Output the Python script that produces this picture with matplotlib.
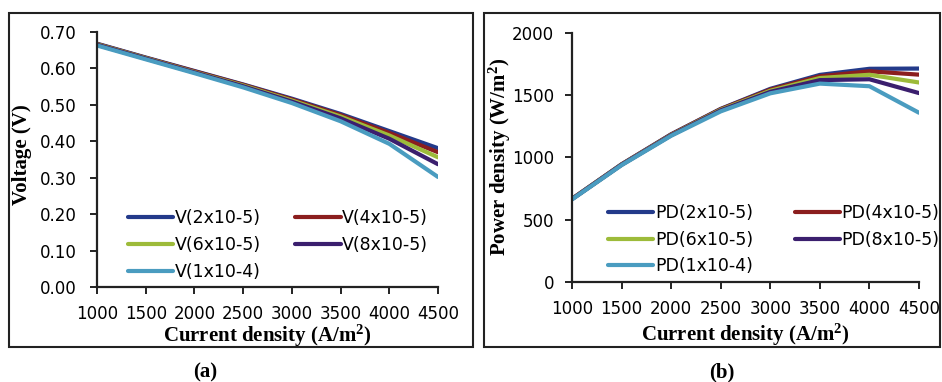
import matplotlib
matplotlib.use("Agg")
import matplotlib.pyplot as plt
from matplotlib.patches import Rectangle

plt.rcParams["mathtext.fontset"] = "custom"
plt.rcParams["mathtext.bf"] = "Liberation Serif:bold"
plt.rcParams["mathtext.rm"] = "Liberation Serif:bold"
plt.rcParams["mathtext.default"] = "bf"

# current density (A/m2)
current = [1000, 1500, 2000, 2500, 3000, 3500, 4000, 4500]

# voltage curves, panel (a)
v_2e5 = [0.668, 0.630, 0.593, 0.556, 0.517, 0.475, 0.428, 0.381]
v_4e5 = [0.667, 0.629, 0.592, 0.555, 0.515, 0.472, 0.423, 0.370]
v_6e5 = [0.666, 0.628, 0.590, 0.553, 0.512, 0.468, 0.416, 0.356]
v_8e5 = [0.665, 0.627, 0.589, 0.551, 0.509, 0.463, 0.407, 0.337]
v_1e4 = [0.663, 0.625, 0.587, 0.548, 0.505, 0.455, 0.393, 0.302]

# power density curves, panel (b)
pd_2e5 = [668, 945, 1186, 1390, 1551, 1663, 1712, 1714]
pd_4e5 = [667, 944, 1184, 1388, 1545, 1652, 1692, 1665]
pd_6e5 = [666, 942, 1180, 1383, 1536, 1638, 1664, 1602]
pd_8e5 = [665, 941, 1178, 1378, 1527, 1621, 1628, 1517]
pd_1e4 = [663, 938, 1174, 1370, 1515, 1593, 1572, 1359]

series_tags = ["2x10-5", "4x10-5", "6x10-5", "8x10-5", "1x10-4"]
colors = ["#233a8a", "#8b1e1e", "#9dbb3a", "#3b1f6e", "#4a9cc0"]

v_all = [v_2e5, v_4e5, v_6e5, v_8e5, v_1e4]
pd_all = [pd_2e5, pd_4e5, pd_6e5, pd_8e5, pd_1e4]

# legend is filled row by row in the original (column-major in mpl)
legend_order = [0, 2, 4, 1, 3]

serif_bold = dict(family="Liberation Serif", fontweight="bold", fontsize=15)

fig = plt.figure(figsize=(9.42, 3.82), dpi=100)

ax_v = fig.add_axes([0.103, 0.2487, 0.362, 0.6675])
ax_p = fig.add_axes([0.6072, 0.2618, 0.3684, 0.652])


def style_axis(ax, ypad):
    for side in ["top", "right"]:
        ax.spines[side].set_visible(False)
    for side in ["left", "bottom"]:
        ax.spines[side].set_linewidth(1.6)
        ax.spines[side].set_color("#222222")
    ax.tick_params(axis="both", direction="out", length=5, width=1.4,
                   color="#222222", labelsize=12)
    ax.tick_params(axis="x", pad=8)
    ax.tick_params(axis="y", pad=ypad)
    ax.set_xlim(1000, 4500)
    ax.set_xticks(range(1000, 4501, 500))


def add_legend(ax, anchor, colsp):
    h, l = ax.get_legend_handles_labels()
    ax.legend([h[i] for i in legend_order], [l[i] for i in legend_order],
              ncol=2, loc="upper left", bbox_to_anchor=anchor,
              frameon=False, fontsize=12.5, handlelength=2.6, handletextpad=0.1,
              columnspacing=colsp, labelspacing=0.5, borderpad=0,
              borderaxespad=0)


for vals, tag, c in zip(v_all, series_tags, colors):
    ax_v.plot(current, vals, color=c, lw=3, label="V(%s)" % tag,
              solid_capstyle="round")
style_axis(ax_v, 9.5)
ax_v.set_ylim(0, 0.70)
ax_v.set_yticks([i / 10 for i in range(8)])
ax_v.yaxis.set_major_formatter(matplotlib.ticker.FormatStrFormatter("%.2f"))
ax_v.set_ylabel("Voltage (V)", **serif_bold)
ax_v.yaxis.set_label_coords(-0.19, 0.52)
ax_v.set_xlabel("Current density (A/m$^{2}$)", **serif_bold)
ax_v.xaxis.set_label_coords(0.5, -0.14)
add_legend(ax_v, (0.09, 0.305), 2.0)

for vals, tag, c in zip(pd_all, series_tags, colors):
    ax_p.plot(current, vals, color=c, lw=3, label="PD(%s)" % tag,
              solid_capstyle="round")
style_axis(ax_p, 8)
ax_p.set_ylim(0, 2000)
ax_p.set_yticks(range(0, 2001, 500))
ax_p.set_ylabel("Power density (W/m$^{2}$)", **serif_bold)
ax_p.yaxis.set_label_coords(-0.17, 0.5)
ax_p.set_xlabel("Current density (A/m$^{2}$)", **serif_bold)
ax_p.xaxis.set_label_coords(0.5, -0.16)
add_legend(ax_p, (0.104, 0.313), 2.4)

# panel frames
W, H = 942.0, 382.0
for x0, x1 in [(9, 473), (484, 940)]:
    fig.patches.append(Rectangle((x0 / W, 1 - 347 / H), (x1 - x0) / W, 334 / H,
                                 transform=fig.transFigure, fill=False,
                                 lw=1.5, edgecolor="#222222"))

fig.text(205 / W, 1 - 372 / H, "(a)", ha="center", va="center", **serif_bold)
fig.text(722 / W, 1 - 372 / H, "(b)", ha="center", va="center", **serif_bold)

fig.savefig("out.png", dpi=100)
